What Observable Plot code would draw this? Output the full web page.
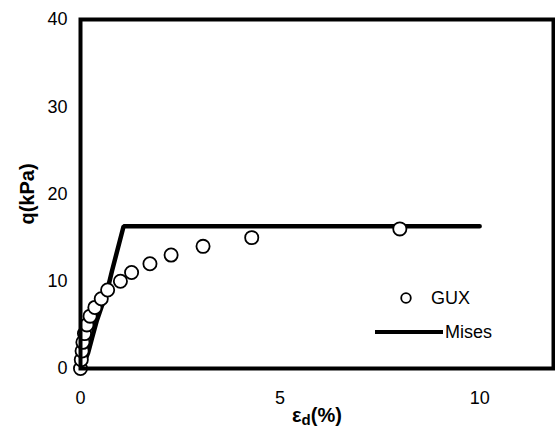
<!DOCTYPE html>
<html>
<head>
<meta charset="utf-8">
<script src="https://cdn.jsdelivr.net/npm/d3@7"></script>
<script src="https://cdn.jsdelivr.net/npm/@observablehq/plot@0.6"></script>
<style>
  html, body { margin: 0; padding: 0; background: #fff; }
  #wrap { position: relative; width: 555px; height: 433px; font-family: "Liberation Sans", Arial, sans-serif; }
  .leg { position: absolute; font-size: 18px; color: #000; line-height: 1; }
</style>
</head>
<body>
<div id="wrap"></div>
<script>
// GUX measured points: deviatoric strain εd (%) vs q (kPa)
const guxStrain = [0, 0.02, 0.04, 0.06, 0.1, 0.16, 0.24, 0.36, 0.52, 0.68, 1.0, 1.28, 1.74, 2.27, 3.07, 4.29, 8.0];
const guxQ      = [0, 1, 2, 3, 4, 5, 6, 7, 8, 9, 10, 11, 12, 13, 14, 15, 16];
// Mises model curve
const misesStrain = [0, 0.1, 0.19, 0.29, 0.41, 0.56, 0.69, 0.79, 1.08, 10];
const misesQ      = [0, 0.8, 1.8, 3.5, 5.5, 7.5, 9.3, 11.2, 16.3, 16.3];
// axes
const xTicks = [0, 5, 10];
const yTicks = [0, 10, 20, 30, 40];
const xLabel = "εd(%)";
const yLabel = "q(kPa)";
const legendLabels = ["GUX", "Mises"];

const gux = guxStrain.map((x, i) => ({x, y: guxQ[i]}));
const mises = misesStrain.map((x, i) => ({x, y: misesQ[i]}));

const chart = Plot.plot({
  width: 555,
  height: 433,
  marginLeft: 80,
  marginRight: 2,
  marginTop: 19,
  marginBottom: 65,
  style: {fontFamily: "'Liberation Sans', Arial, sans-serif", fontSize: "18px", color: "#000", background: "#fff", overflow: "visible"},
  x: {domain: [0, 11.85], ticks: xTicks, tickSize: 0, tickPadding: 23, label: xLabel, labelAnchor: "center", labelOffset: 53, tickFormat: d3.format("d")},
  y: {domain: [0, 40], ticks: yTicks, tickSize: 0, tickPadding: 13, label: yLabel, labelAnchor: "center", labelOffset: 61, labelArrow: "none", tickFormat: d3.format("d")},
  marks: [
    Plot.line(mises, {x: "x", y: "y", stroke: "#000", strokeWidth: 4.5, strokeLinejoin: "miter"}),
    Plot.dot(gux, {x: "x", y: "y", r: 6.6, fill: "#fff", stroke: "#000", strokeWidth: 1.8}),
    Plot.frame({stroke: "#000", strokeWidth: 4})
  ]
});

document.getElementById("wrap").appendChild(chart);

// style axis labels (bold) and add subscript on εd
chart.querySelectorAll('g[aria-label="x-axis label"] text, g[aria-label="y-axis label"] text').forEach(t => {
  t.setAttribute("font-weight", "bold");
  t.setAttribute("font-size", "20");
});
const xl = chart.querySelector('g[aria-label="x-axis label"] text');
if (xl) {
  const ns = "http://www.w3.org/2000/svg";
  xl.textContent = "";
  const a = document.createElementNS(ns, "tspan"); a.textContent = "ε";
  const b = document.createElementNS(ns, "tspan"); b.textContent = "d"; b.setAttribute("dy", "3"); b.setAttribute("font-size", "15");
  const c = document.createElementNS(ns, "tspan"); c.textContent = "(%)"; c.setAttribute("dy", "-3");
  xl.append(a, b, c);
}

// legend overlay
const wrap = document.getElementById("wrap");
const leg = document.createElement("div");
leg.innerHTML = `
  <svg style="position:absolute;left:0;top:0" width="555" height="433">
    <circle cx="406" cy="298" r="4.8" fill="#fff" stroke="#000" stroke-width="1.8"/>
    <line x1="375" x2="443" y1="332" y2="332" stroke="#000" stroke-width="4"/>
  </svg>
  <div class="leg" style="left:431px;top:289px">${legendLabels[0]}</div>
  <div class="leg" style="left:445px;top:323px">${legendLabels[1]}</div>`;
wrap.appendChild(leg);
</script>
</body>
</html>
